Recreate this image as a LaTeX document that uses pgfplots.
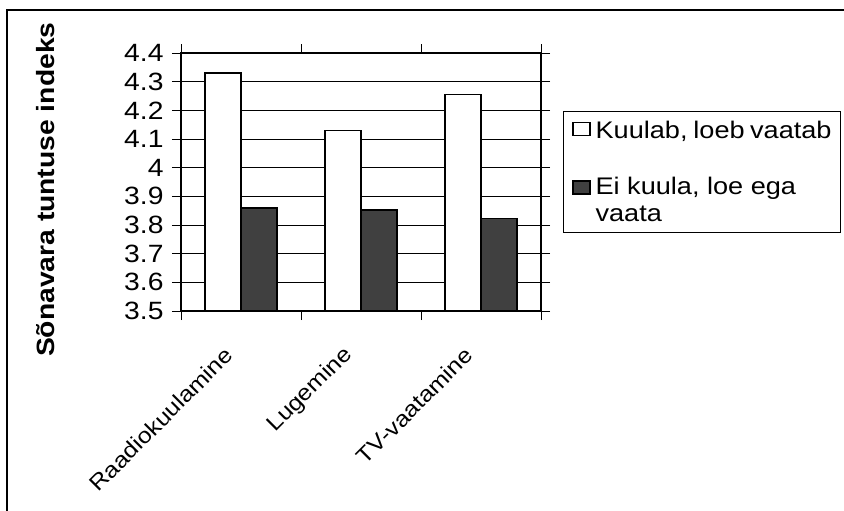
\documentclass[border=0pt]{standalone}
\usepackage{fontspec}
\setmainfont{Liberation Sans}[FakeStretch=1.13]
\usepackage{pgfplots}
\pgfplotsset{compat=1.18}
\begin{document}
\begin{tikzpicture}
\begin{axis}[
  name=main, anchor=south west, at={(0pt,0pt)},
  scale only axis, width=360pt, height=258pt,
  ymin=3.5, ymax=4.4,
  ytick={3.5,3.6,3.7,3.8,3.9,4,4.1,4.2,4.3,4.4},
  xmin=-0.5, xmax=2.5,
  xtick={-0.5,0.5,1.5,2.5}, xticklabels={},
  extra x ticks={0,1,2},
  extra x tick labels={Raadiokuulamine,Lugemine,TV-vaatamine},
  extra x tick style={major tick length=0pt, grid=none,
    tick label style={font=\fontsize{22}{22}\selectfont, rotate=45, anchor=east, inner sep=0pt, xshift=-37pt, yshift=-20pt}},
  ymajorgrids, grid style={black, line width=0.8pt},
  tick align=outside, major tick length=9pt,
  tick style={black, line width=0.8pt},
  axis line style={line width=1.6pt},
  /pgf/number format/assume math mode=true,
  yticklabel style={font=\fontsize{25}{25}\selectfont, xshift=-5pt, /pgf/number format/fixed, /pgf/number format/precision=1},
  ylabel={Sõnavara tuntuse indeks},
  ylabel style={at={(axis description cs:-0.375,0.47)}, anchor=center, font=\bfseries\fontsize{25}{25}\selectfont},
  ybar=0pt, bar width=36pt,
  legend style={at={(axis description cs:1,1)}, anchor=north west, xshift=22pt, yshift=-58pt,
    draw=black, line width=0.8pt, font=\fontsize{24}{27}\selectfont,
    row sep=37pt, column sep=5pt, inner xsep=9pt, inner ysep=9.5pt,
    nodes={inner sep=0pt}},
  legend cell align=left,
]
\addplot[draw=black, line width=1.6pt, fill=white,
  legend image code/.code={\draw[black, fill=white, line width=1.2pt] (0pt,-5pt) rectangle (17pt,8pt);}]
  coordinates {(0,4.33) (1,4.13) (2,4.255)};
\addplot[draw=black, line width=1.6pt, fill=black!75,
  legend image code/.code={\draw[black, fill=black!75, line width=1.2pt] (0pt,5.75pt) rectangle (17pt,18.75pt);}]
  coordinates {(0,3.86) (1,3.852) (2,3.823)};
\addlegendentry{\parbox[t]{236pt}{Kuulab, loeb vaatab}}
\addlegendentry{\parbox[b]{236pt}{Ei kuula, loe ega\\vaata}}
\end{axis}
\pgfresetboundingbox
\useasboundingbox (-181pt,-200pt) rectangle (663pt,311pt);
\draw[line width=1.2pt] (-174pt,-200pt) -- (-174pt,301pt) -- (663pt,301pt);
\end{tikzpicture}
\end{document}
